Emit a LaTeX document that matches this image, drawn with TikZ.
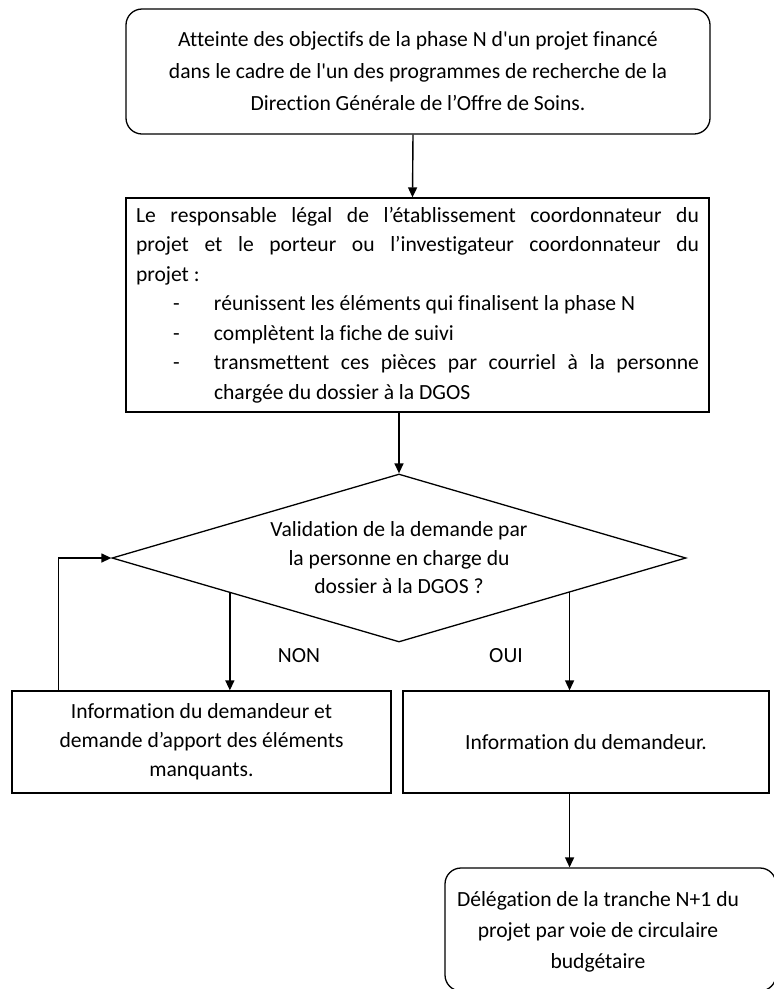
\documentclass[tikz,border=0pt]{standalone}
\usepackage{fontspec}
\setmainfont{Carlito}[Ligatures={NoCommon}]
\usetikzlibrary{arrows.meta,shapes.geometric,calc}
\newcommand\diagfont[1]{\fontsize{21.6}{#1}\selectfont}
\begin{document}
\begin{tikzpicture}[x=1pt,y=-1pt,
  box/.style={draw, line width=1.3pt, rectangle, inner sep=0pt, align=center},
  rbox/.style={box, rounded corners=16pt},
  arr/.style={draw, line width=1.4pt, -{Triangle[length=10pt,width=9pt]}},
  lbl/.style={inner sep=0pt, font=\diagfont{26}}]
\useasboundingbox (0,0) rectangle (774,989);
\clip (0,0) rectangle (774,989);

\node[rbox, minimum width=584pt, minimum height=125pt, font=\diagfont{32}] (top) at (418,71.5)
  {\raisebox{-4pt}{\parbox{580pt}{\centering
   Atteinte des objectifs de la phase N d\textquotesingle un projet financé\\
   dans le cadre de l\textquotesingle un des programmes de recherche de la\\
   Direction Générale de l’Offre de Soins.}}};

\node[box, minimum width=583pt, minimum height=214pt, font=\diagfont{29.5}] (box2) at (417.5,305)
  {\raisebox{-8pt}{\parbox{563pt}{\makebox[563pt][s]{Le responsable légal de l’établissement coordonnateur du}\\
   \makebox[563pt][s]{projet et le porteur ou l’investigateur coordonnateur du}\\
   projet :\\
   \hspace*{37pt}\makebox[41pt][l]{-}réunissent les éléments qui finalisent la phase N\\
   \hspace*{37pt}\makebox[41pt][l]{-}complètent la fiche de suivi\\
   \hspace*{37pt}\makebox[41pt][l]{-}\makebox[485pt][s]{transmettent ces pièces par courriel à la personne}\\
   \hspace*{78pt}chargée du dossier à la DGOS}}};

\node[draw, line width=1.3pt, diamond, aspect=3.42, inner sep=0pt,
      minimum width=574pt, minimum height=168pt, align=center, font=\diagfont{28.5}] (dia) at (399,558)
  {\raisebox{-5pt}{\parbox{300pt}{\centering Validation de la demande par\\la personne en charge du\\dossier à la DGOS ?}}};

\node[box, minimum width=379pt, minimum height=102pt, font=\diagfont{29}] (left) at (201.5,742)
  {Information du demandeur et\\demande d’apport des éléments\\manquants.};

\node[box, minimum width=366pt, minimum height=102pt, font=\diagfont{29}] (right) at (586,742)
  {Information du demandeur.};

\node[rbox, minimum width=331pt, minimum height=123pt] (final) at (610.5,929.5) {};
\node[inner sep=0pt, align=center, font=\diagfont{31}] (finaltext) at (598,932)
  {Délégation de la tranche N+1 du\\projet par voie de circulaire\\budgétaire};

\node[lbl] (non) at (299,656) {NON};
\node[lbl] (oui) at (506,656) {OUI};

\draw[arr] ([xshift=-5pt]top.south) -- ([xshift=-5pt]box2.north);
\draw[arr] (box2.south -| dia.north) -- (dia.north);
\coordinate (n1) at ($(dia.west)!0.412!(dia.south)$);
\coordinate (n2) at ($(dia.east)!0.407!(dia.south)$);
\draw[arr] (n1) -- (n1 |- left.north);
\draw[arr] (n2) -- (n2 |- right.north);
\draw[arr] ([xshift=47pt]left.north west) |- (dia.west);
\draw[arr] (n2 |- right.south) -- (n2 |- final.north);
\end{tikzpicture}
\end{document}
